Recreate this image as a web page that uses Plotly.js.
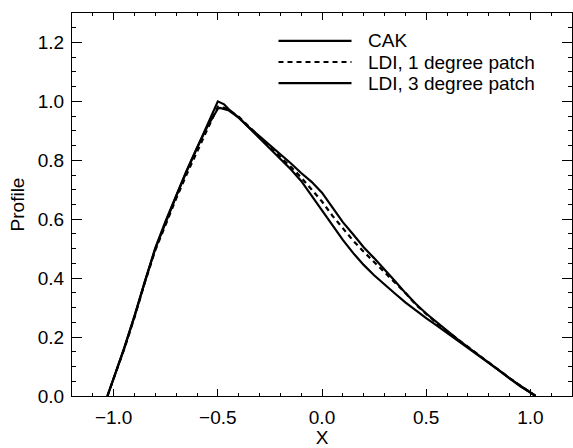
<!DOCTYPE html>
<html>
<head>
<meta charset="utf-8">
<script src="https://cdn.plot.ly/plotly-3.0.1.min.js"></script>
<style>html,body{margin:0;padding:0;background:#fff;}#plot{width:573px;height:448px;}</style>
</head>
<body>
<div id="plot"></div>
<script>
// ---- data ----
const seriesNames = ["CAK", "LDI, 1 degree patch", "LDI, 3 degree patch"];

const xCAK = [-1.03, -0.95, -0.9, -0.85, -0.8, -0.75, -0.7, -0.65, -0.6, -0.55, -0.5, -0.47, -0.45, -0.4, -0.35, -0.3, -0.25, -0.2, -0.15, -0.1, -0.05, 0.0, 0.05, 0.1, 0.15, 0.2, 0.25, 0.3, 0.35, 0.4, 0.45, 0.5, 0.55, 0.6, 0.65, 0.7, 0.75, 0.8, 0.85, 0.9, 0.95, 1.0, 1.025];
const yCAK = [0.0, 0.16, 0.27, 0.39, 0.5, 0.592, 0.678, 0.762, 0.84, 0.918, 1.0, 0.99, 0.975, 0.945, 0.91, 0.875, 0.84, 0.805, 0.77, 0.73, 0.68, 0.63, 0.578, 0.53, 0.485, 0.445, 0.41, 0.378, 0.348, 0.318, 0.29, 0.264, 0.24, 0.215, 0.19, 0.165, 0.14, 0.113, 0.087, 0.06, 0.035, 0.012, 0.0];

const xLDI1 = [-1.03, -0.95, -0.9, -0.85, -0.8, -0.75, -0.7, -0.65, -0.6, -0.55, -0.5, -0.47, -0.45, -0.4, -0.35, -0.3, -0.25, -0.2, -0.15, -0.1, -0.05, 0.0, 0.05, 0.1, 0.15, 0.2, 0.25, 0.3, 0.35, 0.4, 0.45, 0.5, 0.55, 0.6, 0.65, 0.7, 0.75, 0.8, 0.85, 0.9, 0.95, 1.0, 1.025];
const yLDI1 = [0.0, 0.158, 0.267, 0.386, 0.495, 0.585, 0.67, 0.752, 0.83, 0.905, 0.982, 0.978, 0.972, 0.948, 0.915, 0.88, 0.845, 0.812, 0.778, 0.742, 0.702, 0.66, 0.612, 0.568, 0.527, 0.49, 0.455, 0.42, 0.385, 0.35, 0.31, 0.278, 0.248, 0.22, 0.193, 0.167, 0.141, 0.114, 0.088, 0.061, 0.036, 0.013, 0.0];

const xLDI3 = [-1.03, -0.95, -0.9, -0.85, -0.8, -0.75, -0.7, -0.65, -0.6, -0.55, -0.5, -0.49, -0.45, -0.4, -0.35, -0.3, -0.25, -0.2, -0.15, -0.1, -0.05, 0.0, 0.05, 0.1, 0.15, 0.2, 0.25, 0.3, 0.35, 0.4, 0.45, 0.5, 0.55, 0.6, 0.65, 0.7, 0.75, 0.8, 0.85, 0.9, 0.95, 1.0, 1.025];
const yLDI3 = [0.0, 0.162, 0.272, 0.392, 0.503, 0.595, 0.682, 0.765, 0.843, 0.915, 0.975, 0.978, 0.97, 0.945, 0.912, 0.882, 0.852, 0.822, 0.79, 0.757, 0.727, 0.69, 0.64, 0.59, 0.548, 0.505, 0.468, 0.43, 0.39, 0.35, 0.313, 0.28, 0.25, 0.22, 0.193, 0.166, 0.14, 0.112, 0.086, 0.06, 0.034, 0.012, 0.0];

const xTickVals = [-1.0, -0.5, 0.0, 0.5, 1.0];
const xTickText = ["\u22121.0", "\u22120.5", "0.0", "0.5", "1.0"];
const yTickVals = [0.0, 0.2, 0.4, 0.6, 0.8, 1.0, 1.2];
const yTickText = ["0.0", "0.2", "0.4", "0.6", "0.8", "1.0", "1.2"];

// ---- styling ----
const FONT = "Liberation Sans, Arial, Helvetica, sans-serif";
const dashes = ["solid", "5px,4px", "solid"];
const xs = [xCAK, xLDI1, xLDI3];
const ys = [yCAK, yLDI1, yLDI3];

const traces = seriesNames.map((n, i) => ({
  x: xs[i], y: ys[i], name: n, type: "scatter", mode: "lines",
  line: {color: "#000", width: 2.2, dash: dashes[i]},
  showlegend: false
}));

// custom legend (long line samples)
const legY = [0.927, 0.872, 0.817];
const shapes = [];
const annotations = [];
seriesNames.forEach((n, i) => {
  shapes.push({type: "line", xref: "paper", yref: "paper",
    x0: 0.413, x1: 0.559, y0: legY[i], y1: legY[i],
    line: {color: "#000", width: 2.2, dash: dashes[i]}});
  annotations.push({xref: "paper", yref: "paper", x: 0.587, y: legY[i],
    xanchor: "left", yanchor: "middle", showarrow: false, text: n,
    font: {family: FONT, size: 19, color: "#000"}});
});

const axisCommon = {
  showgrid: false, zeroline: false, showline: true, linecolor: "#000", linewidth: 1,
  mirror: "ticks", ticks: "inside", tickcolor: "#000", tickwidth: 1,
  tickfont: {family: FONT, size: 19, color: "#000"}
};

const layout = {
  width: 573, height: 448,
  margin: {l: 72, r: 1, t: 13, b: 52},
  paper_bgcolor: "#fff", plot_bgcolor: "#fff",
  xaxis: Object.assign({}, axisCommon, {
    range: [-1.2, 1.2], tickmode: "array", tickvals: xTickVals, ticktext: xTickText,
    ticklen: 7, ticklabelstandoff: 4,
    minor: {dtick: 0.1, tick0: 0, ticks: "inside", ticklen: 3, tickcolor: "#000", tickwidth: 1},
    title: {text: "X", font: {family: FONT, size: 19, color: "#000"}, standoff: 6}
  }),
  yaxis: Object.assign({}, axisCommon, {
    range: [0, 1.3], tickmode: "array", tickvals: yTickVals, ticktext: yTickText,
    ticklen: 10, ticklabelstandoff: 3,
    minor: {dtick: 0.05, tick0: 0, ticks: "inside", ticklen: 4, tickcolor: "#000", tickwidth: 1},
    title: {text: "Profile", font: {family: FONT, size: 19, color: "#000"}, standoff: 8}
  }),
  shapes: shapes,
  annotations: annotations
};

Plotly.newPlot("plot", traces, layout, {displayModeBar: false, staticPlot: true});
</script>
</body>
</html>
